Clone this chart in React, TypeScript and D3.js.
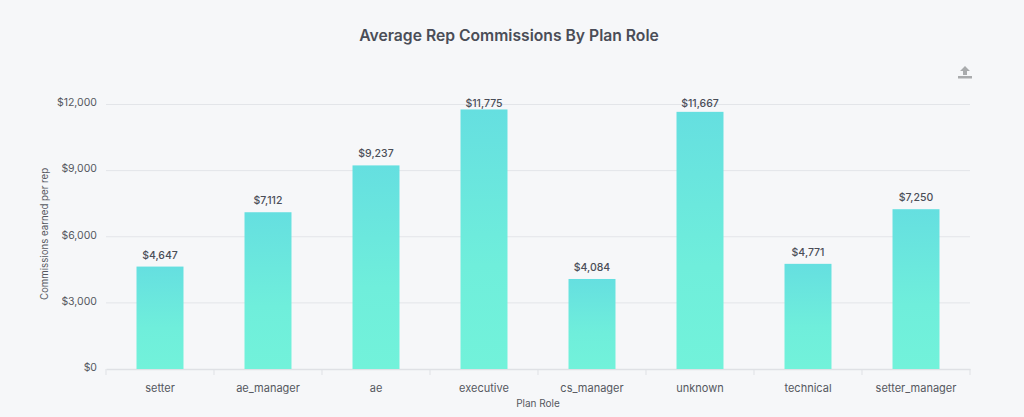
import { useEffect, useRef } from "react";
import * as d3 from "d3";

const roles = ["setter", "ae_manager", "ae", "executive", "cs_manager", "unknown", "technical", "setter_manager"];
const commissions = [4647, 7112, 9237, 11775, 4084, 11667, 4771, 7250];
const yTicks = [0, 3000, 6000, 9000, 12000];

const W = 1024;
const H = 417;
const margin = { top: 104.5, right: 54, bottom: 48, left: 106 };
const font = "Inter, 'Open Sans', sans-serif";
const textColor = "#4a4d57";
const tickColor = "#55585f";

const App = () => {
  const svgRef = useRef<SVGSVGElement>(null);

  useEffect(() => {
    const svg = d3.select(svgRef.current);
    svg.selectAll("*").remove();

    const xScale = d3
      .scaleBand()
      .domain(roles)
      .range([margin.left, W - margin.right])
      .paddingInner(0.565)
      .paddingOuter(0.2825);
    const yScale = d3
      .scaleLinear()
      .domain([0, 12000])
      .range([H - margin.bottom, margin.top]);

    const grad = svg
      .append("defs")
      .append("linearGradient")
      .attr("id", "barFill")
      .attr("x1", 0)
      .attr("y1", 0)
      .attr("x2", 0)
      .attr("y2", 1);
    grad.append("stop").attr("offset", "0%").attr("stop-color", "#65dfe0");
    grad.append("stop").attr("offset", "60%").attr("stop-color", "#6feedb");
    grad.append("stop").attr("offset", "100%").attr("stop-color", "#72f2da");

    svg.append("rect").attr("width", W).attr("height", H).attr("fill", "#f6f7f9");

    svg
      .append("text")
      .attr("x", 509)
      .attr("y", 41)
      .attr("text-anchor", "middle")
      .attr("font-family", font)
      .attr("font-size", 15.7)
      .attr("font-weight", 600)
      .attr("fill", textColor)
      .text("Average Rep Commissions By Plan Role");

    // grid lines
    svg
      .selectAll(".grid")
      .data(yTicks.filter((d) => d > 0))
      .join("line")
      .attr("x1", margin.left)
      .attr("x2", W - margin.right)
      .attr("y1", (d) => yScale(d))
      .attr("y2", (d) => yScale(d))
      .attr("stroke", "#e3e5e9");

    // y axis
    const yAxis = d3
      .axisLeft(yScale)
      .tickValues(yTicks)
      .tickSize(0)
      .tickPadding(9)
      .tickFormat((d) => "$" + d3.format(",")(d as number));
    const yG = svg.append("g").attr("transform", `translate(${margin.left},0)`).call(yAxis);
    yG.select(".domain").remove();
    yG.selectAll("text")
      .attr("font-family", font)
      .attr("font-size", 10.5)
      .attr("fill", tickColor)
      .attr("dy", "0.12em");

    // x axis
    const xBoundaries = d3.scaleLinear().domain([0, roles.length]).range([margin.left, W - margin.right]);
    const xAxis = d3.axisBottom(xScale).tickSize(0).tickPadding(15);
    const xG = svg.append("g").attr("transform", `translate(0,${H - margin.bottom})`).call(xAxis);
    xG.select(".domain").attr("stroke", "#dfe1e5").attr("stroke-width", 1.5);
    xG.selectAll("text").attr("font-family", font).attr("font-size", 11).attr("fill", tickColor);
    svg
      .append("g")
      .selectAll("line")
      .data(d3.range(roles.length + 1))
      .join("line")
      .attr("x1", (d) => xBoundaries(d))
      .attr("x2", (d) => xBoundaries(d))
      .attr("y1", H - margin.bottom)
      .attr("y2", H - margin.bottom + 6)
      .attr("stroke", "#dfe1e5");

    // bars
    svg
      .selectAll(".bar")
      .data(commissions)
      .join("rect")
      .attr("x", (_, i) => xScale(roles[i]) as number)
      .attr("y", (d) => yScale(d))
      .attr("width", xScale.bandwidth())
      .attr("height", (d) => yScale(0) - yScale(d))
      .attr("fill", "url(#barFill)");

    // value labels, held just under the top gridline when the bar is tall
    svg
      .selectAll(".val")
      .data(commissions)
      .join("text")
      .attr("x", (_, i) => (xScale(roles[i]) as number) + xScale.bandwidth() / 2)
      .attr("y", (d) => Math.max(yScale(d) - 8, 107))
      .attr("text-anchor", "middle")
      .attr("font-family", font)
      .attr("font-size", 10.5)
      .attr("font-weight", 500)
      .attr("fill", textColor)
      .text((d) => "$" + d3.format(",")(d));

    // axis titles
    svg
      .append("text")
      .attr("x", 538)
      .attr("y", 407)
      .attr("text-anchor", "middle")
      .attr("font-family", font)
      .attr("font-size", 10)
      .attr("fill", tickColor)
      .text("Plan Role");
    svg
      .append("text")
      .attr("transform", "rotate(-90)")
      .attr("x", -234)
      .attr("y", 48)
      .attr("text-anchor", "middle")
      .attr("font-family", font)
      .attr("font-size", 9.7)
      .attr("fill", tickColor)
      .text("Commissions earned per rep");

    // export icon
    const icon = svg.append("g").attr("fill", "#a9abad");
    icon.append("rect").attr("x", 958).attr("y", 76).attr("width", 14).attr("height", 2.5);
    icon.append("path").attr("d", "M965 66l5 5h-3v4h-4v-4h-3z");
  }, []);

  return <svg ref={svgRef} width={W} height={H} style={{ position: "fixed", left: 0, top: 0 }}></svg>;
};

export default App;
